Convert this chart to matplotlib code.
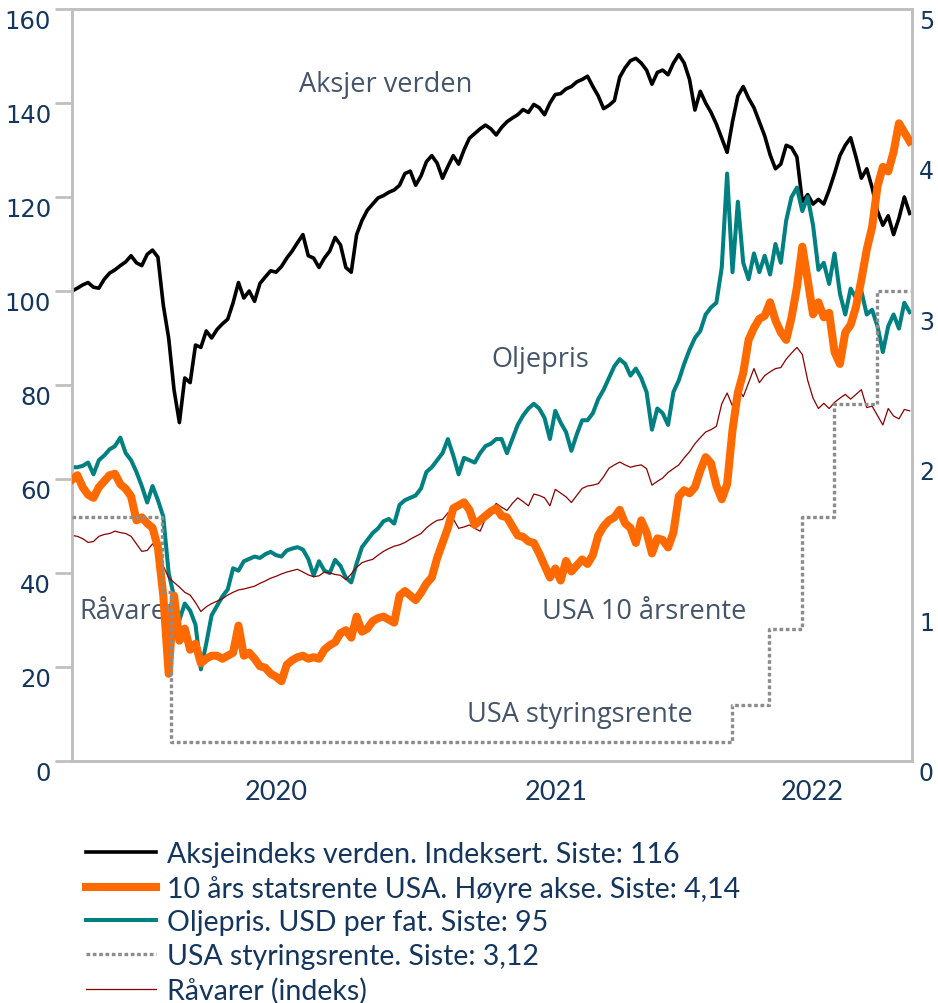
import matplotlib
matplotlib.use("Agg")
import matplotlib.pyplot as plt
import matplotlib.transforms as mtransforms
import pandas as pd

# weekly observations, starting 8 Nov 2019
start = "2019-11-08"
n_weeks = 157

# world equity index, indexed (left axis)
aksjer = [
    100.0, 100.6, 101.3, 101.8, 100.8, 100.6, 102.5, 103.8, 104.5, 105.4,
    106.2, 107.5, 106.0, 105.4, 107.8, 108.7, 107.2, 97.0, 90.0, 79.0,
    72.0, 81.5, 80.5, 88.5, 88.0, 91.5, 90.0, 91.8, 93.0, 94.0,
    97.5, 101.8, 98.5, 100.0, 97.8, 101.6, 103.0, 104.3, 104.0, 105.2,
    107.0, 108.5, 110.3, 112.0, 107.5, 107.0, 105.0, 107.0, 108.5, 111.4,
    109.8, 105.0, 104.0, 112.0, 115.0, 117.2, 118.5, 119.8, 120.3, 121.0,
    121.5, 122.5, 125.0, 125.5, 122.5, 124.5, 127.5, 128.8, 127.2, 124.0,
    126.5, 128.8, 127.0, 130.0, 132.5, 133.5, 134.5, 135.3, 134.5, 133.2,
    134.8, 136.0, 136.8, 137.5, 138.6, 138.0, 139.7, 139.0, 137.5, 140.0,
    141.8, 142.0, 143.0, 143.5, 144.5, 145.0, 145.7, 143.5, 141.5, 138.8,
    139.5, 140.5, 145.5, 147.5, 149.0, 149.5, 148.5, 147.0, 144.0, 146.5,
    147.0, 146.0, 148.5, 150.3, 148.5, 145.0, 138.5, 142.5, 140.0, 138.0,
    135.5, 132.5, 129.5, 136.0, 141.5, 143.5, 141.0, 139.0, 136.0, 133.0,
    129.0, 126.0, 127.0, 131.0, 130.5, 128.5, 119.0, 120.5, 118.5, 119.5,
    118.5, 121.5, 125.0, 128.8, 131.0, 132.6, 128.5, 124.0, 126.0, 122.0,
    117.0, 114.0, 116.0, 112.0, 115.5, 120.0, 116.5,
]

# US 10y treasury yield, percent (right axis)
rente10 = [
    1.87, 1.90, 1.82, 1.77, 1.75, 1.82, 1.86, 1.90, 1.91, 1.84,
    1.81, 1.76, 1.60, 1.62, 1.58, 1.55, 1.42, 1.10, 0.58, 1.10,
    0.80, 0.88, 0.74, 0.78, 0.65, 0.68, 0.70, 0.70, 0.68, 0.70,
    0.72, 0.90, 0.70, 0.72, 0.68, 0.63, 0.62, 0.58, 0.56, 0.53,
    0.64, 0.67, 0.69, 0.70, 0.68, 0.69, 0.68, 0.74, 0.77, 0.79,
    0.85, 0.87, 0.82, 0.96, 0.86, 0.88, 0.93, 0.95, 0.96, 0.94,
    0.92, 1.10, 1.13, 1.10, 1.07, 1.12, 1.18, 1.22, 1.35, 1.45,
    1.55, 1.68, 1.70, 1.72, 1.67, 1.57, 1.60, 1.63, 1.66, 1.68,
    1.63, 1.62, 1.56, 1.50, 1.49, 1.46, 1.45, 1.38, 1.30, 1.22,
    1.28, 1.20, 1.33, 1.26, 1.30, 1.34, 1.31, 1.37, 1.50, 1.56,
    1.60, 1.62, 1.67, 1.58, 1.55, 1.45, 1.60, 1.52, 1.38, 1.48,
    1.47, 1.42, 1.52, 1.76, 1.80, 1.78, 1.82, 1.93, 2.02, 1.98,
    1.83, 1.74, 1.84, 2.20, 2.45, 2.58, 2.80, 2.88, 2.94, 2.96,
    3.05, 2.93, 2.85, 2.80, 2.95, 3.15, 3.42, 3.20, 2.97, 3.05,
    2.95, 2.98, 2.72, 2.64, 2.85, 2.90, 3.02, 3.20, 3.40, 3.55,
    3.82, 3.95, 3.92, 4.05, 4.24, 4.18, 4.12,
]

# Brent, USD per barrel (left axis)
olje = [
    62.5, 62.5, 62.8, 63.5, 61.0, 64.0, 65.0, 66.3, 67.0, 68.8,
    65.5, 64.0, 61.5, 58.5, 55.0, 58.5, 55.5, 52.0, 40.0, 35.0,
    30.0, 33.5, 32.0, 29.0, 19.5, 25.0, 31.0, 33.0, 35.0, 36.5,
    41.0, 40.5, 42.5, 43.0, 43.5, 43.2, 44.0, 44.5, 43.8, 43.5,
    44.8, 45.2, 45.5, 45.0, 43.0, 39.5, 42.5, 40.5, 40.0, 42.8,
    41.5, 39.0, 38.0, 42.0, 45.5, 47.0, 48.5, 49.5, 51.0, 51.5,
    50.5, 54.5, 55.5, 56.0, 56.5, 58.0, 61.5, 62.5, 64.0, 65.5,
    68.5, 65.0, 61.0, 64.5, 64.0, 63.5, 65.5, 67.0, 67.5, 68.5,
    68.5, 65.5, 68.5, 71.5, 73.5, 75.0, 76.0, 75.0, 73.0, 68.5,
    74.5, 72.0, 70.0, 66.0, 69.5, 72.5, 72.5, 74.0, 77.0, 79.0,
    81.5, 84.0, 85.5, 84.5, 82.0, 83.5, 81.5, 78.5, 70.5, 75.0,
    74.0, 71.5, 78.5, 81.0, 84.5, 87.5, 90.0, 91.5, 95.0, 96.5,
    97.5, 105.0, 125.0, 104.0, 119.0, 106.0, 102.5, 108.0, 104.0, 107.5,
    103.5, 110.0, 106.0, 115.0, 120.0, 122.0, 117.0, 120.0, 114.0, 104.5,
    106.0, 101.5, 108.0, 99.5, 95.0, 100.5, 98.5, 100.0, 95.0, 96.0,
    92.5, 87.0, 92.5, 95.0, 92.0, 97.5, 95.5,
]

# commodity index (left axis)
raavarer = [
    48.0, 47.8, 47.3, 46.5, 46.7, 47.8, 48.2, 48.4, 48.9, 48.6,
    48.4, 47.8, 46.2, 44.6, 44.8, 46.2, 44.6, 41.5, 39.0, 38.0,
    37.0, 35.9, 35.3, 33.7, 31.8, 32.8, 33.5, 34.0, 34.5, 35.3,
    35.9, 36.4, 36.6, 36.9, 37.2, 37.8, 38.3, 38.9, 39.3, 39.8,
    40.2, 40.5, 40.8, 40.2, 39.6, 39.2, 39.4, 40.2, 40.0, 39.7,
    39.5, 38.6, 39.8, 41.2, 42.2, 42.6, 42.9, 43.8, 44.6, 45.2,
    45.7, 46.0, 46.5, 47.2, 47.8, 48.4, 49.6, 50.5, 51.2, 51.4,
    52.8, 51.5, 49.5, 49.8, 50.2, 49.5, 48.9, 51.5, 53.3, 54.8,
    54.0, 53.3, 54.8, 56.0, 55.2, 54.3, 56.8, 56.5, 56.0, 54.3,
    57.8, 57.0, 56.2, 55.0, 56.5, 58.0, 58.5, 58.7, 59.0, 60.5,
    62.3, 63.0, 63.6, 63.0, 62.5, 62.8, 63.0, 62.2, 58.7, 59.5,
    60.2, 61.4, 62.2, 63.0, 64.5, 65.8, 67.5, 68.8, 70.0, 70.5,
    71.2, 76.0, 78.3, 75.5, 79.5, 77.5, 80.5, 83.5, 80.5, 82.0,
    82.8, 83.5, 83.7, 85.5, 86.8, 88.0, 86.5, 81.0, 77.2, 75.0,
    76.1, 75.0, 76.3, 77.2, 78.0, 77.0, 78.0, 79.0, 75.2, 75.5,
    73.5, 71.5, 75.0, 73.4, 72.8, 74.8, 74.5,
]

# US policy rate (midpoint of target range), change dates
styring_datoer = ["2019-11-08", "2020-03-04", "2020-03-16", "2022-03-17",
                  "2022-05-05", "2022-06-16", "2022-07-28", "2022-09-22",
                  "2022-11-04"]
styring = [1.625, 1.125, 0.125, 0.375, 0.875, 1.625, 2.375, 3.125, 3.125]

aar_labels = ["2020", "2021", "2022"]
aar_pos = ["2020-07-31", "2021-07-31", "2022-06-30"]

navy = "#14365e"
grey = "#c0c0c0"
note = "#44546a"

datoer = pd.date_range(start, periods=n_weeks, freq="7D")

fig = plt.figure(figsize=(9.38, 10.04), dpi=100)
ax = fig.add_axes([72 / 938, 1 - 762 / 1004, 840 / 938, 752 / 1004])
ax2 = ax.twinx()

l_aks, = ax.plot(datoer, aksjer, color="black", lw=2.6, zorder=3)
l_olje, = ax.plot(datoer, olje, color="#008080", lw=2.9, zorder=3)
l_raa, = ax.plot(datoer, raavarer, color="#8b0000", lw=0.9, zorder=3)
l_10, = ax2.plot(datoer, rente10, color="#ff6a00", lw=5.8, zorder=3)
l_sty, = ax2.plot(pd.to_datetime(styring_datoer), styring, color="#8c8c8c",
                  lw=2.4, ls=(0, (1.1, 0.8)), drawstyle="steps-post", zorder=4)

ax.set_xlim(pd.Timestamp("2019-11-08"), pd.Timestamp("2022-11-07"))
ax.set_ylim(0, 160)
ax2.set_ylim(0, 5)
ax.set_yticks(range(0, 161, 20))
ax2.set_yticks(range(0, 6))
ax.set_xticks(pd.to_datetime(aar_pos))
ax.set_xticklabels(aar_labels, family="Lato", fontsize=19.5, color=navy)

for a in (ax, ax2):
    for s in a.spines.values():
        s.set_color(grey)
        s.set_linewidth(2.0)
ax.tick_params(axis="y", direction="out", length=12, width=2.0, color=grey,
               labelsize=17.5, labelcolor=navy, pad=3)
ax2.tick_params(axis="y", length=0, labelsize=17, labelcolor=navy, pad=5)
ax.tick_params(axis="x", length=0, pad=13)

shift = mtransforms.ScaledTranslation(0, -0.095, fig.dpi_scale_trans)
for a in (ax, ax2):
    for lab in a.get_yticklabels():
        lab.set_transform(lab.get_transform() + shift)

tekst = dict(color=note, fontsize=19.5, family="Open Sans", ha="center",
             va="center", zorder=1)
ax.text(0.373, 0.9, "Aksjer verden", transform=ax.transAxes, **tekst)
ax.text(0.557, 0.535, "Oljepris", transform=ax.transAxes, **tekst)
ax.text(0.681, 0.2, "USA 10 årsrente", transform=ax.transAxes, **tekst)
ax.text(0.605, 0.062, "USA styringsrente", transform=ax.transAxes, **tekst)
ax.text(0.067, 0.2, "Råvarer", transform=ax.transAxes, **tekst)

handles = [l_aks, l_10, l_olje, l_sty, l_raa]
labels = ["Aksjeindeks verden. Indeksert. Siste: 116",
          "10 års statsrente USA. Høyre akse. Siste: 4,14",
          "Oljepris. USD per fat. Siste: 95",
          "USA styringsrente. Siste: 3,12",
          "Råvarer (indeks)"]
leg = fig.legend(handles, labels, loc="upper left",
                 bbox_to_anchor=(86 / 938, 1 - 842 / 1004), frameon=False,
                 prop={"family": "Lato", "size": 20.5}, labelcolor=navy,
                 handlelength=2.45, handletextpad=0.4, labelspacing=0.27,
                 borderpad=0, borderaxespad=0)

fig.savefig("out.png", dpi=100)
